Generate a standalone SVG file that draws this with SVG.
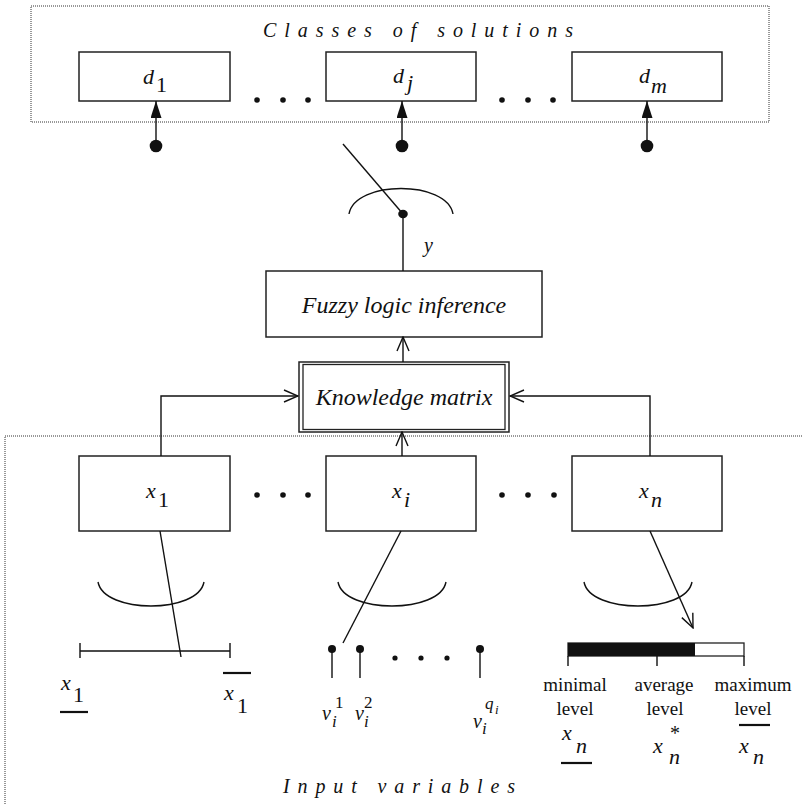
<svg xmlns="http://www.w3.org/2000/svg" width="803" height="804" viewBox="0 0 803 804">
<style>
.box{fill:#fff;stroke:#222;stroke-width:1.5}
.ln{fill:none;stroke:#111;stroke-width:1.4}
.dot{fill:none;stroke:#333;stroke-width:1;stroke-dasharray:1 1}
.it{font-family:"Liberation Serif",serif;font-style:italic;font-size:22px;fill:#111}
.big{font-size:24px}
.rm{font-family:"Liberation Serif",serif;font-size:22px;fill:#111}
.lv{font-family:"Liberation Serif",serif;font-size:19px;fill:#111;text-anchor:middle}
.bar{fill:none;stroke:#111;stroke-width:2.2}
</style>
<defs>
<marker id="open" viewBox="0 0 16 14" refX="15" refY="7" markerWidth="16" markerHeight="14" markerUnits="userSpaceOnUse" orient="auto">
<path d="M1,1 L15,7 L1,13" fill="none" stroke="#111" stroke-width="1.4"/>
</marker>
<marker id="fill" viewBox="0 0 17 11" refX="17" refY="5.5" markerWidth="17" markerHeight="11" markerUnits="userSpaceOnUse" orient="auto">
<path d="M0,0 L17,5.5 L0,11 Z" fill="#111"/>
</marker>
</defs>

<g id="classes-region">
<rect class="dot" x="31" y="6" width="738" height="116"/>
<text class="it" x="263" y="37" textLength="310" lengthAdjust="spacing" style="font-size:20px">Classes of solutions</text>
</g>

<g id="d1"><rect class="box" x="79" y="52" width="151" height="49"/>
<text class="it" x="143" y="84">d</text><text class="rm" x="156" y="92">1</text></g>
<g id="dj"><rect class="box" x="326" y="52" width="150" height="49"/>
<text class="it" x="393" y="83">d</text><text class="it" x="407" y="90">j</text></g>
<g id="dm"><rect class="box" x="572" y="52" width="150" height="49"/>
<text class="it" x="639" y="83">d</text><text class="it" x="651" y="93">m</text></g>

<g id="top-ellipsis" fill="#111">
<circle cx="257" cy="100" r="2.8"/><circle cx="283" cy="100" r="2.8"/><circle cx="308" cy="100" r="2.8"/>
<circle cx="502" cy="100" r="2.8"/><circle cx="528" cy="100" r="2.8"/><circle cx="553" cy="100" r="2.8"/>
</g>

<g id="fuzzy"><rect class="box" x="266" y="271" width="276" height="66"/>
<text class="it big" x="404" y="313" text-anchor="middle">Fuzzy logic inference</text></g>

<g id="knowledge-matrix">
<rect class="box" x="299" y="362" width="210" height="70"/>
<rect fill="none" stroke="#222" stroke-width="1.3" x="303" y="364.5" width="202" height="65"/>
<text class="it big" x="404" y="405" text-anchor="middle">Knowledge matrix</text></g>

<g id="output-switch">
<path class="ln" d="M349,214 C355,180 447,180 453,214"/>
<ellipse cx="403" cy="214" rx="4.8" ry="4.2" fill="#111"/>
<text class="it" x="424" y="252" style="font-size:20px">y</text>
</g>

<g id="inputs-region">
<path class="dot" d="M5,804 L5,436 L803,436"/>
<text class="it" x="283" y="793" textLength="232" lengthAdjust="spacing" style="font-size:20px">Input variables</text>
</g>

<g id="x1"><rect class="box" x="79" y="456" width="151" height="75"/>
<text class="it" x="146" y="498">x</text><text class="rm" x="158" y="507">1</text></g>
<g id="xi"><rect class="box" x="326" y="456" width="150" height="75"/>
<text class="it" x="392" y="498">x</text><text class="it" x="404" y="507">i</text></g>
<g id="xn"><rect class="box" x="572" y="456" width="150" height="75"/>
<text class="it" x="639" y="498">x</text><text class="it" x="651" y="507">n</text></g>

<g id="mid-ellipsis" fill="#111">
<circle cx="257" cy="495" r="2.8"/><circle cx="283" cy="495" r="2.8"/><circle cx="308" cy="495" r="2.8"/>
<circle cx="502" cy="495" r="2.8"/><circle cx="528" cy="495" r="2.8"/><circle cx="554" cy="495" r="2.8"/>
</g>

<g id="x1-range">
<path class="ln" d="M98,582 C104,614 198,614 204,582"/>
<path class="ln" d="M80,651 L230,651 M80,643 L80,658 M230,643 L230,658"/>
<text class="it" x="61" y="690">x</text><text class="rm" x="73" y="702">1</text>
<line class="bar" x1="60" y1="712" x2="88" y2="712"/>
<line class="bar" x1="223" y1="673" x2="251" y2="673"/>
<text class="it" x="224" y="700">x</text><text class="rm" x="237" y="713">1</text>
</g>

<g id="xi-values">
<path class="ln" d="M338,582 C344,614 440,614 446,582"/>
<g fill="#111"><circle cx="332" cy="649" r="4"/><circle cx="360" cy="649" r="4"/><circle cx="480" cy="649" r="4"/>
<circle cx="395" cy="658" r="2.6"/><circle cx="421" cy="658" r="2.6"/><circle cx="447" cy="658" r="2.6"/></g>
<path class="ln" d="M332,649 L332,678 M360,649 L360,678 M480,649 L480,678"/>
<g class="it" style="font-size:20px">
<text x="322" y="720">v</text><text x="332" y="727" style="font-size:17px">i</text><text class="rm" x="335" y="708" style="font-size:17px;font-style:normal">1</text>
<text x="355" y="720">v</text><text x="364" y="727" style="font-size:17px">i</text><text class="rm" x="364" y="708" style="font-size:17px;font-style:normal">2</text>
<text x="473" y="728">v</text><text x="482" y="734" style="font-size:17px">i</text><text x="485" y="709" style="font-size:17px">q</text><text x="495" y="714" style="font-size:13px">i</text>
</g>
</g>

<g id="xn-levels">
<path class="ln" d="M584,582 C590,614 686,614 692,582"/>
<rect x="568" y="643" width="176" height="13" fill="#fff" stroke="#222" stroke-width="1.3"/>
<rect x="568" y="643" width="127" height="13" fill="#111"/>
<path class="ln" d="M568,656 L568,666 M657,656 L657,666 M744,656 L744,666"/>
<text class="lv" x="575" y="691">minimal</text><text class="lv" x="575" y="715">level</text>
<text class="lv" x="664" y="691">average</text><text class="lv" x="665" y="715">level</text>
<text class="lv" x="753" y="691">maximum</text><text class="lv" x="753" y="715">level</text>
<text class="it" x="562" y="740">x</text><text class="it" x="576" y="753">n</text>
<line class="bar" x1="561" y1="763" x2="592" y2="763"/>
<text class="it" x="653" y="753">x</text><text class="rm" x="670" y="740" style="font-size:20px">*</text><text class="it" x="669" y="764">n</text>
<line class="bar" x1="739" y1="725" x2="770" y2="725"/>
<text class="it" x="739" y="753">x</text><text class="it" x="753" y="764">n</text>
</g>

<g id="connectors">
<path class="ln" d="M156,146 L156,101" marker-end="url(#fill)"/>
<path class="ln" d="M402,146 L402,101" marker-end="url(#fill)"/>
<path class="ln" d="M647,146 L647,101" marker-end="url(#fill)"/>
<g fill="#111"><circle cx="156" cy="146" r="6.3"/><circle cx="402" cy="146" r="6.3"/><circle cx="647" cy="146" r="6.3"/></g>
<path class="ln" d="M343,144 L403,214"/>
<path class="ln" d="M403,271 L403,214"/>
<path class="ln" d="M403,362 L403,337" marker-end="url(#open)"/>
<path class="ln" d="M402,456 L402,432" marker-end="url(#open)"/>
<path class="ln" d="M161,456 L161,396 L298,396" marker-end="url(#open)"/>
<path class="ln" d="M650,456 L650,396 L510,396" marker-end="url(#open)"/>
<path class="ln" d="M160,531 L181,657"/>
<path class="ln" d="M401,531 L343,643"/>
<path class="ln" d="M650,531 L693,628" marker-end="url(#open)"/>
</g>
</svg>
